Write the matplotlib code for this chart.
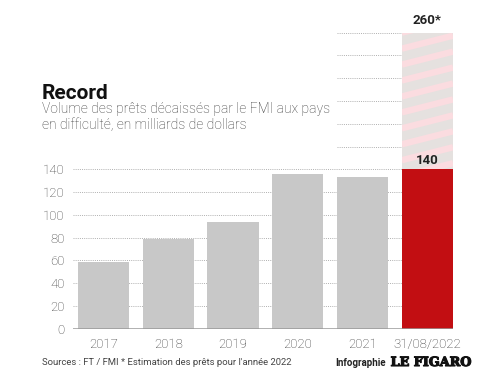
import numpy as np
import matplotlib.pyplot as plt
import matplotlib.patheffects as pe

plt.rcParams['font.family'] = ['Roboto', 'DejaVu Sans']

# data
years = ['2017', '2018', '2019', '2020', '2021', '31/08/2022']
values = [59, 79, 94, 136, 133, 140]
estimate_2022 = 260
yticks = [0, 20, 40, 60, 80, 100, 120, 140]
upper_grid = [160, 180, 200, 220, 240, 260]

gray = '#c8c8c8'
red = '#c20e12'
stripe_bg = '#e5e1df'
stripe_pink = '#fbdce0'

fig = plt.figure(figsize=(4.98, 3.76), dpi=100)
ax = fig.add_axes([73 / 498, 1 - 328.7 / 376, (453 - 73) / 498, (328.7 - 32.7) / 376])

x = np.arange(len(years))
w = 0.79
xmin, xmax = -0.47, x[-1] + w / 2
ax.set_xlim(xmin, xmax)
ax.set_ylim(0, estimate_2022)

# dotted grid
dot = dict(colors='#b0b0b0', linewidth=0.7, linestyles=(0, (1, 1.2)), zorder=1)
ax.hlines(yticks[1:], xmin, xmax, **dot)
ax.hlines(upper_grid, x[4] - w / 2, x[5] - w / 2, **dot)

# bars
ax.bar(x[:-1], values[:-1], width=w, color=gray, zorder=2)
est = ax.bar(x[-1], estimate_2022, width=w, color=stripe_bg, zorder=2)[0]

# stripes on the estimate bar
slope = 14.4
period = 14
x0, x1 = x[-1] - w / 2, x[-1] + w / 2
for b in np.arange(-20, estimate_2022 + 20, period):
    ln, = ax.plot([x0, x1], [b, b + slope * w], color=stripe_pink, lw=4.6,
                  solid_capstyle='butt', zorder=3)
    ln.set_clip_path(est)

ax.bar(x[-1], values[-1], width=w, color=red, zorder=4)

# baseline
ax.axhline(0, color='#999999', lw=1.8, zorder=5)

# value labels
ax.text(x[-1], estimate_2022 + 5, '260*', ha='center', va='bottom',
        fontsize=9.5, fontweight='bold', color='#222222')
ax.text(x[-1], values[-1] + 2, '140', ha='center', va='bottom',
        fontsize=9.5, fontweight='bold', color='#222222', zorder=6)

ax.set_xticks(x)
ax.set_xticklabels(years, fontsize=9.5, color='#333333', fontweight='light')
ax.set_yticks(yticks)
ax.set_yticklabels([str(v) for v in yticks], fontsize=9.5, color='#3a3a3a',
                   fontweight='light')
ax.tick_params(length=0, pad=6)
ax.tick_params(axis='x', pad=7)
for s in ax.spines.values():
    s.set_visible(False)

# titles
fig.text(42 / 498, 1 - 99 / 376, 'Record', fontsize=15, fontweight='bold',
         color='#111111', va='baseline')
fig.text(42 / 498, 1 - 113 / 376, 'Volume des prêts décaissés par le FMI aux pays',
         fontsize=10, fontweight='light', color='#3a3a3a', va='baseline')
fig.text(42 / 498, 1 - 129 / 376, 'en difficulté, en milliards de dollars',
         fontsize=10, fontweight='light', color='#3a3a3a', va='baseline')

fig.text(42 / 498, 1 - 365 / 376, "Sources : FT / FMI * Estimation des prêts pour l'année 2022",
         fontsize=6.8, color='#444444', va='baseline')
fig.text(335 / 498, 1 - 366 / 376, 'Infographie', fontsize=7, fontweight='bold',
         color='#222222', va='baseline')
fig.text(471 / 498, 1 - 366 / 376, 'LE FIGARO', fontsize=9.2, fontweight='bold',
         family='DejaVu Serif', color='#111111', va='baseline', ha='right',
         path_effects=[pe.withStroke(linewidth=0.8, foreground='#111111')])

fig.savefig('out.png', dpi=100)
